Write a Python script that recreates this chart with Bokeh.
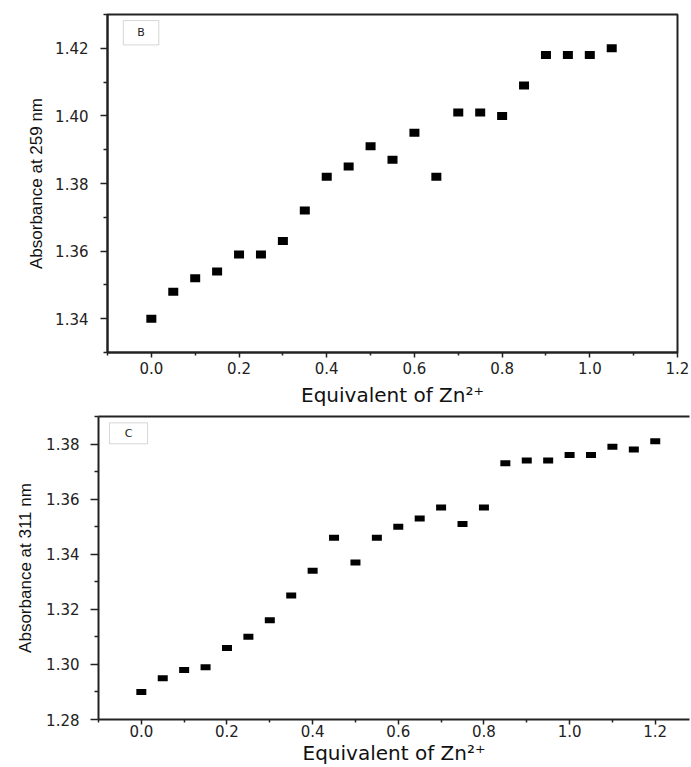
from bokeh.plotting import figure
from bokeh.layouts import column, row
from bokeh.models import FixedTicker, PrintfTickFormatter, LinearAxis, BoxAnnotation, Label, ColumnDataSource
from bokeh.embed import file_html
from bokeh.resources import INLINE

# ---- data ----
eq_b = [0.00, 0.05, 0.10, 0.15, 0.20, 0.25, 0.30, 0.35, 0.40, 0.45, 0.50,
        0.55, 0.60, 0.65, 0.70, 0.75, 0.80, 0.85, 0.90, 0.95, 1.00, 1.05]
abs_259 = [1.340, 1.348, 1.352, 1.354, 1.359, 1.359, 1.363, 1.372, 1.382, 1.385, 1.391,
           1.387, 1.395, 1.382, 1.401, 1.401, 1.400, 1.409, 1.418, 1.418, 1.418, 1.420]

eq_c = [0.00, 0.05, 0.10, 0.15, 0.20, 0.25, 0.30, 0.35, 0.40, 0.45, 0.50, 0.55,
        0.60, 0.65, 0.70, 0.75, 0.80, 0.85, 0.90, 0.95, 1.00, 1.05, 1.10, 1.15, 1.20]
abs_311 = [1.290, 1.295, 1.298, 1.299, 1.306, 1.310, 1.316, 1.325, 1.334, 1.346, 1.337, 1.346,
           1.350, 1.353, 1.357, 1.351, 1.357, 1.373, 1.374, 1.374, 1.376, 1.376, 1.379, 1.378, 1.381]

x_major = [0.0, 0.2, 0.4, 0.6, 0.8, 1.0, 1.2]
x_minor = [-0.1, 0.1, 0.3, 0.5, 0.7, 0.9, 1.1]
yb_major = [1.34, 1.36, 1.38, 1.40, 1.42]
yb_minor = [1.33, 1.35, 1.37, 1.39, 1.41, 1.43]
yc_major = [1.28, 1.30, 1.32, 1.34, 1.36, 1.38]
yc_minor = [1.29, 1.31, 1.33, 1.35, 1.37, 1.39]

x_title = "Equivalent of Zn\u00b2\u207a"
yb_title = "Absorbance at 259 nm"
yc_title = "Absorbance at 311 nm"

AX = "#222222"
TICKF = "DejaVu Sans"
YF = "Liberation Sans"


def style(p, xmaj, xmin, ymaj, ymin, yfmt, ytick_out, xstand, xlabstand, ystand, ylabstand, xlab_size):
    p.xgrid.visible = False
    p.ygrid.visible = False
    p.background_fill_color = "white"
    p.border_fill_color = "white"
    xa = p.xaxis[0]
    ya = p.yaxis[0]
    xa.ticker = FixedTicker(ticks=xmaj, minor_ticks=xmin)
    ya.ticker = FixedTicker(ticks=ymaj, minor_ticks=ymin)
    xa.formatter = PrintfTickFormatter(format="%.1f")
    ya.formatter = PrintfTickFormatter(format=yfmt)
    for a in (xa, ya):
        a.axis_line_color = AX
        a.axis_line_width = 2
        a.major_tick_line_color = AX
        a.minor_tick_line_color = AX
        a.major_tick_line_width = 1.5
        a.minor_tick_line_width = 1.5
        a.major_tick_in = 0
        a.minor_tick_in = 0
        a.major_label_text_font = TICKF
        a.major_label_text_font_size = "15px"
        a.major_label_text_color = "#222222"
    xa.major_tick_out = 5
    xa.minor_tick_out = 3
    ya.major_tick_out = ytick_out
    ya.minor_tick_out = 4
    xa.major_label_standoff = xstand
    ya.major_label_standoff = ystand
    xa.axis_label_text_font = TICKF
    xa.axis_label_text_font_style = "normal"
    xa.axis_label_text_font_size = xlab_size
    xa.axis_label_text_color = "#111111"
    xa.axis_label_standoff = xlabstand
    ya.axis_label_text_font = YF
    ya.axis_label_text_font_style = "normal"
    ya.axis_label_text_font_size = "17px"
    ya.axis_label_text_color = "#111111"
    ya.axis_label_standoff = ylabstand


# ---- panel B ----
p1 = figure(width=691, height=410, x_range=(-0.1, 1.2), y_range=(1.33, 1.43),
            output_backend="svg", toolbar_location=None,
            min_border_left=107, min_border_right=14, min_border_top=14, min_border_bottom=58,
            x_axis_label=x_title, y_axis_label=yb_title)
style(p1, x_major, x_minor, yb_major, yb_minor, "%.2f", 7, 4, 6, 12, 6, "20px")
p1.outline_line_color = AX
p1.outline_line_width = 2
src1 = ColumnDataSource(dict(x=eq_b, y=abs_259))
p1.rect(x="x", y="y", width=10, height=8, width_units="screen", height_units="screen",
        source=src1, fill_color="black", line_color=None)
p1.add_layout(BoxAnnotation(left=-0.064, right=0.017, bottom=1.421, top=1.4282,
                            fill_color="white", fill_alpha=1, line_color="#777777", line_width=1))
p1.add_layout(Label(x=-0.0235, y=1.4246, text="B", text_align="center", text_baseline="middle",
                    text_font=TICKF, text_font_size="11px", text_color="#222222"))

# ---- panel C ----
p2 = figure(width=691, height=357, x_range=(-0.1, 1.28), y_range=(1.28, 1.39),
            output_backend="svg", toolbar_location=None,
            min_border_left=98, min_border_right=2, min_border_top=6, min_border_bottom=47,
            x_axis_label=x_title, y_axis_label=yc_title)
style(p2, x_major, x_minor, yc_major, yc_minor, "%.2f", 8, 0, 1, 11, 8, "20px")
p2.outline_line_color = None
top_ax = LinearAxis(ticker=FixedTicker(ticks=[]), axis_line_color=AX, axis_line_width=2,
                    major_tick_out=0, minor_tick_out=0, major_label_standoff=0, axis_label_standoff=0)
p2.add_layout(top_ax, "above")
src2 = ColumnDataSource(dict(x=eq_c, y=abs_311))
p2.rect(x="x", y="y", width=10, height=6, width_units="screen", height_units="screen",
        source=src2, fill_color="black", line_color=None)
p2.add_layout(BoxAnnotation(left=-0.0743, right=0.0145, bottom=1.3801, top=1.3877,
                            fill_color="white", fill_alpha=1, line_color="#777777", line_width=1))
p2.add_layout(Label(x=-0.030, y=1.3839, text="C", text_align="center", text_baseline="middle",
                    text_font=TICKF, text_font_size="11px", text_color="#222222"))

layout = column(row(p1), row(p2), spacing=0)
open("out.html", "w").write(file_html(layout, INLINE))
